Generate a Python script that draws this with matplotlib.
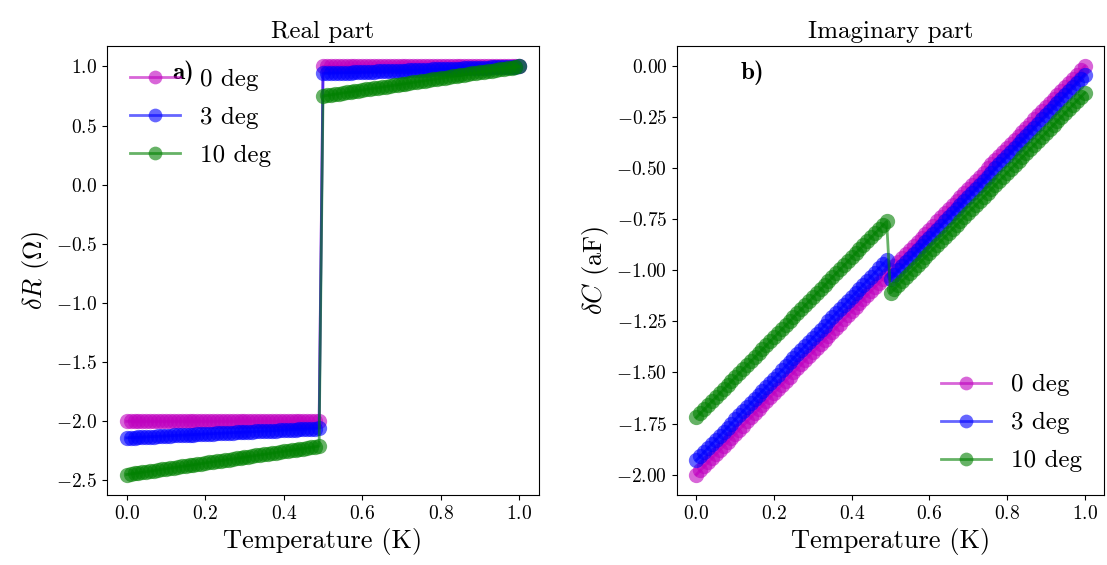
"""
Real and imaginary part of the response vs temperature, for three angles.
"""

import matplotlib
matplotlib.use("Agg")
import matplotlib.pyplot as plt

# Fonts: computer modern, like the original
plt.rcParams['font.family'] = 'serif'
plt.rcParams['font.serif'] = ['cmr10']
plt.rcParams['mathtext.fontset'] = 'cm'
plt.rcParams['axes.formatter.use_mathtext'] = True


# Data

temperature = [
    0.00, 0.01, 0.02, 0.03, 0.04, 0.05, 0.06, 0.07, 0.08, 0.09,
    0.10, 0.11, 0.12, 0.13, 0.14, 0.15, 0.16, 0.17, 0.18, 0.19,
    0.20, 0.21, 0.22, 0.23, 0.24, 0.25, 0.26, 0.27, 0.28, 0.29,
    0.30, 0.31, 0.32, 0.33, 0.34, 0.35, 0.36, 0.37, 0.38, 0.39,
    0.40, 0.41, 0.42, 0.43, 0.44, 0.45, 0.46, 0.47, 0.48, 0.49,
    0.50, 0.51, 0.52, 0.53, 0.54, 0.55, 0.56, 0.57, 0.58, 0.59,
    0.60, 0.61, 0.62, 0.63, 0.64, 0.65, 0.66, 0.67, 0.68, 0.69,
    0.70, 0.71, 0.72, 0.73, 0.74, 0.75, 0.76, 0.77, 0.78, 0.79,
    0.80, 0.81, 0.82, 0.83, 0.84, 0.85, 0.86, 0.87, 0.88, 0.89,
    0.90, 0.91, 0.92, 0.93, 0.94, 0.95, 0.96, 0.97, 0.98, 0.99,
    1.00,
]

# Real part, delta R (Ohm)
dR_0deg = [
    -2.00, -2.00, -2.00, -2.00, -2.00, -2.00, -2.00, -2.00, -2.00, -2.00,
    -2.00, -2.00, -2.00, -2.00, -2.00, -2.00, -2.00, -2.00, -2.00, -2.00,
    -2.00, -2.00, -2.00, -2.00, -2.00, -2.00, -2.00, -2.00, -2.00, -2.00,
    -2.00, -2.00, -2.00, -2.00, -2.00, -2.00, -2.00, -2.00, -2.00, -2.00,
    -2.00, -2.00, -2.00, -2.00, -2.00, -2.00, -2.00, -2.00, -2.00, -2.00,
    1.00, 1.00, 1.00, 1.00, 1.00, 1.00, 1.00, 1.00, 1.00, 1.00,
    1.00, 1.00, 1.00, 1.00, 1.00, 1.00, 1.00, 1.00, 1.00, 1.00,
    1.00, 1.00, 1.00, 1.00, 1.00, 1.00, 1.00, 1.00, 1.00, 1.00,
    1.00, 1.00, 1.00, 1.00, 1.00, 1.00, 1.00, 1.00, 1.00, 1.00,
    1.00, 1.00, 1.00, 1.00, 1.00, 1.00, 1.00, 1.00, 1.00, 1.00,
    1.00,
]
dR_3deg = [
    -2.140, -2.138, -2.137, -2.135, -2.133, -2.132, -2.130, -2.129, -2.127, -2.125,
    -2.124, -2.122, -2.120, -2.119, -2.117, -2.116, -2.114, -2.112, -2.111, -2.109,
    -2.107, -2.106, -2.104, -2.102, -2.101, -2.099, -2.098, -2.096, -2.094, -2.093,
    -2.091, -2.089, -2.088, -2.086, -2.084, -2.083, -2.081, -2.080, -2.078, -2.076,
    -2.075, -2.073, -2.071, -2.070, -2.068, -2.067, -2.065, -2.063, -2.062, -2.060,
    0.940, 0.941, 0.942, 0.944, 0.945, 0.946, 0.947, 0.948, 0.950, 0.951,
    0.952, 0.953, 0.954, 0.956, 0.957, 0.958, 0.959, 0.960, 0.962, 0.963,
    0.964, 0.965, 0.966, 0.968, 0.969, 0.970, 0.971, 0.972, 0.974, 0.975,
    0.976, 0.977, 0.978, 0.980, 0.981, 0.982, 0.983, 0.984, 0.986, 0.987,
    0.988, 0.989, 0.990, 0.992, 0.993, 0.994, 0.995, 0.996, 0.998, 0.999,
    1.000,
]
dR_10deg = [
    -2.450, -2.445, -2.440, -2.435, -2.430, -2.426, -2.421, -2.416, -2.411, -2.406,
    -2.401, -2.396, -2.391, -2.386, -2.381, -2.377, -2.372, -2.367, -2.362, -2.357,
    -2.352, -2.347, -2.342, -2.337, -2.332, -2.328, -2.323, -2.318, -2.313, -2.308,
    -2.303, -2.298, -2.293, -2.288, -2.283, -2.279, -2.274, -2.269, -2.264, -2.259,
    -2.254, -2.249, -2.244, -2.239, -2.234, -2.230, -2.225, -2.220, -2.215, -2.210,
    0.750, 0.755, 0.760, 0.765, 0.770, 0.775, 0.780, 0.785, 0.790, 0.795,
    0.800, 0.805, 0.810, 0.815, 0.820, 0.825, 0.830, 0.835, 0.840, 0.845,
    0.850, 0.855, 0.860, 0.865, 0.870, 0.875, 0.880, 0.885, 0.890, 0.895,
    0.900, 0.905, 0.910, 0.915, 0.920, 0.925, 0.930, 0.935, 0.940, 0.945,
    0.950, 0.955, 0.960, 0.965, 0.970, 0.975, 0.980, 0.985, 0.990, 0.995,
    1.000,
]

# Imaginary part, delta C (aF)
dC_0deg = [
    -2.00, -1.98, -1.96, -1.94, -1.92, -1.90, -1.88, -1.86, -1.84, -1.82,
    -1.80, -1.78, -1.76, -1.74, -1.72, -1.70, -1.68, -1.66, -1.64, -1.62,
    -1.60, -1.58, -1.56, -1.54, -1.52, -1.50, -1.48, -1.46, -1.44, -1.42,
    -1.40, -1.38, -1.36, -1.34, -1.32, -1.30, -1.28, -1.26, -1.24, -1.22,
    -1.20, -1.18, -1.16, -1.14, -1.12, -1.10, -1.08, -1.06, -1.04, -1.02,
    -1.00, -0.98, -0.96, -0.94, -0.92, -0.90, -0.88, -0.86, -0.84, -0.82,
    -0.80, -0.78, -0.76, -0.74, -0.72, -0.70, -0.68, -0.66, -0.64, -0.62,
    -0.60, -0.58, -0.56, -0.54, -0.52, -0.50, -0.48, -0.46, -0.44, -0.42,
    -0.40, -0.38, -0.36, -0.34, -0.32, -0.30, -0.28, -0.26, -0.24, -0.22,
    -0.20, -0.18, -0.16, -0.14, -0.12, -0.10, -0.08, -0.06, -0.04, -0.02,
    0.00,
]
dC_3deg = [
    -1.93, -1.91, -1.89, -1.87, -1.85, -1.83, -1.81, -1.79, -1.77, -1.75,
    -1.73, -1.71, -1.69, -1.67, -1.65, -1.63, -1.61, -1.59, -1.57, -1.55,
    -1.53, -1.51, -1.49, -1.47, -1.45, -1.43, -1.41, -1.39, -1.37, -1.35,
    -1.33, -1.31, -1.29, -1.27, -1.25, -1.23, -1.21, -1.19, -1.17, -1.15,
    -1.13, -1.11, -1.09, -1.07, -1.05, -1.03, -1.01, -0.99, -0.97, -0.95,
    -1.04, -1.02, -1.00, -0.98, -0.96, -0.94, -0.92, -0.90, -0.88, -0.86,
    -0.84, -0.82, -0.80, -0.78, -0.76, -0.74, -0.72, -0.70, -0.68, -0.66,
    -0.64, -0.62, -0.60, -0.58, -0.56, -0.54, -0.52, -0.50, -0.48, -0.46,
    -0.44, -0.42, -0.40, -0.38, -0.36, -0.34, -0.32, -0.30, -0.28, -0.26,
    -0.24, -0.22, -0.20, -0.18, -0.16, -0.14, -0.12, -0.10, -0.08, -0.06,
    -0.04,
]
dC_10deg = [
    -1.720, -1.700, -1.681, -1.661, -1.642, -1.622, -1.602, -1.583, -1.563, -1.544,
    -1.524, -1.504, -1.485, -1.465, -1.446, -1.426, -1.406, -1.387, -1.367, -1.348,
    -1.328, -1.308, -1.289, -1.269, -1.250, -1.230, -1.210, -1.191, -1.171, -1.152,
    -1.132, -1.112, -1.093, -1.073, -1.054, -1.034, -1.014, -0.995, -0.975, -0.956,
    -0.936, -0.916, -0.897, -0.877, -0.858, -0.838, -0.818, -0.799, -0.779, -0.760,
    -1.110, -1.090, -1.071, -1.051, -1.032, -1.012, -0.992, -0.973, -0.953, -0.934,
    -0.914, -0.894, -0.875, -0.855, -0.836, -0.816, -0.796, -0.777, -0.757, -0.738,
    -0.718, -0.698, -0.679, -0.659, -0.640, -0.620, -0.600, -0.581, -0.561, -0.542,
    -0.522, -0.502, -0.483, -0.463, -0.444, -0.424, -0.404, -0.385, -0.365, -0.346,
    -0.326, -0.306, -0.287, -0.267, -0.248, -0.228, -0.208, -0.189, -0.169, -0.150,
    -0.130,
]

labels = ['0 deg', '3 deg', '10 deg']
colors = ['m', 'b', 'g']
real_series = [dR_0deg, dR_3deg, dR_10deg]
imag_series = [dC_0deg, dC_3deg, dC_10deg]


# Figure with the two panels
fig = plt.figure(figsize=(11.07, 5.65), dpi=100)
ax1 = fig.add_axes([0.0967, 0.124, 0.3902, 0.7946])
ax2 = fig.add_axes([0.6116, 0.124, 0.3857, 0.7946])

for y, c, lab in zip(real_series, colors, labels):
    ax1.plot(temperature, y, '-o', color=c, alpha=0.6, lw=2, ms=11, mew=0,
             label=lab)
for y, c, lab in zip(imag_series, colors, labels):
    ax2.plot(temperature, y, '-o', color=c, alpha=0.6, lw=2, ms=11, mew=0,
             label=lab)

ax1.set_title('Real part', fontsize=18)
ax1.set_xlabel('Temperature (K)', fontsize=19)
ax1.set_ylabel(r'$\delta R$ ($\Omega$)', fontsize=19)
ax1.legend(loc='upper left', frameon=False, fontsize=18, labelspacing=0.62,
           markerscale=0.9)
ax1.text(0.15, 0.94, 'a)', transform=ax1.transAxes, family='cmb10',
         fontsize=18, va='center', ha='left')

ax2.set_title('Imaginary part', fontsize=18)
ax2.set_xlabel('Temperature (K)', fontsize=19)
ax2.set_ylabel(r'$\delta C$ (aF)', fontsize=19)
ax2.legend(loc='lower right', frameon=False, fontsize=18, labelspacing=0.62,
           markerscale=0.9)
ax2.text(0.15, 0.94, 'b)', transform=ax2.transAxes, family='cmb10',
         fontsize=18, va='center', ha='left')

for ax in (ax1, ax2):
    ax.tick_params(labelsize=14)

plt.savefig('out.png', dpi=100)
